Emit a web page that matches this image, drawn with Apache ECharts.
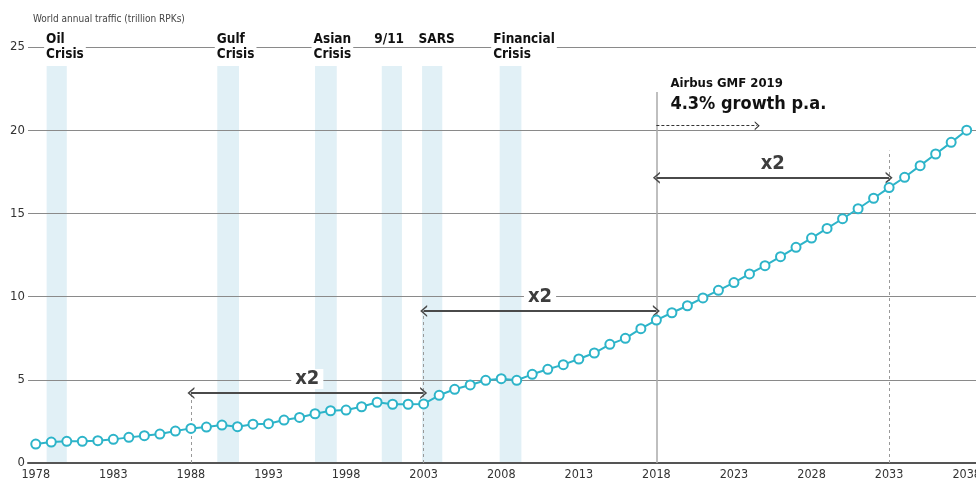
<!DOCTYPE html>
<html>
<head>
<meta charset="utf-8">
<script src="https://cdn.jsdelivr.net/npm/echarts@6/dist/echarts.min.js"></script>
<style>
html,body{margin:0;padding:0;background:#fff;}
#chart{width:976px;height:481px;}
</style>
</head>
<body>
<div id="chart"></div>
<script>
// ---------- data ----------
const years = [1978,1979,1980,1981,1982,1983,1984,1985,1986,1987,1988,1989,1990,1991,1992,1993,1994,1995,1996,1997,1998,1999,2000,2001,2002,2003,2004,2005,2006,2007,2008,2009,2010,2011,2012,2013,2014,2015,2016,2017,2018,2019,2020,2021,2022,2023,2024,2025,2026,2027,2028,2029,2030,2031,2032,2033,2034,2035,2036,2037,2038];
const traffic = [1.14,1.26,1.30,1.30,1.34,1.42,1.54,1.64,1.74,1.92,2.08,2.16,2.28,2.18,2.33,2.36,2.58,2.74,2.96,3.14,3.18,3.38,3.65,3.53,3.53,3.55,4.07,4.43,4.69,4.97,5.07,4.97,5.33,5.63,5.91,6.25,6.61,7.13,7.49,8.07,8.59,9.03,9.45,9.92,10.38,10.84,11.36,11.86,12.40,12.96,13.52,14.10,14.68,15.28,15.91,16.55,17.17,17.87,18.57,19.27,20.00];
const xTickLabels = [1978,1983,1988,1993,1998,2003,2008,2013,2018,2023,2028,2033,2038];
const yTickLabels = [0,5,10,15,20,25];
const crisisNames = ['Oil\nCrisis','Gulf\nCrisis','Asian\nCrisis','9/11','SARS','Financial\nCrisis'];
const crisisStart = [1978.7,1989.7,1996.0,2000.3,2002.9,2007.9];
const crisisEnd   = [1980.0,1991.1,1997.4,2001.6,2004.2,2009.3];
const crisisTop = 23.86;
const doublingFrom = [1988,2003,2018];
const doublingTo   = [2003,2018,2033];
const doublingLevel = [4.2,9.13,17.14];
const doublingLabel = ['x2','x2','x2'];
const forecastStart = 2018;
const forecastTop = 22.3;
const outlookLevel = 20.27;
const outlookEnd = 2024.5;
const outlookTitle = 'Airbus GMF 2019';
const outlookGrowth = '4.3% growth p.a.';
const yAxisTitle = 'World annual traffic (trillion RPKs)';
const dashTop2033 = 18.77;

// ---------- styles ----------
const FONT = "'Liberation Sans Narrow','Arial Narrow','DejaVu Sans Condensed',sans-serif";
const TEAL = '#2db4c9';
const crisisLabelDx = [-2,-2,-3,-9,-5,-8];
const CHEV = 'path://M0,10 L5,0 L10,10 L8.4,10 L5,3.2 L1.6,10 Z';

const chart = echarts.init(document.getElementById('chart'), null, {renderer:'canvas'});

const bandData = crisisNames.map((n,i)=>[
  {name:n, xAxis:crisisStart[i], yAxis:0},
  {xAxis:crisisEnd[i], yAxis:crisisTop}
]);

const crisisLabelData = crisisNames.map((n,i)=>({
  name:n, coord:[crisisStart[i], crisisTop],
  label:{position:[crisisLabelDx[i], -33],
    backgroundColor: n.indexOf('\n')>=0 ? '#fff' : 'transparent'}
}));

const arrowData = doublingFrom.map((f,i)=>[
  {coord:[f, doublingLevel[i]], label:{formatter:doublingLabel[i]}},
  {coord:[doublingTo[i], doublingLevel[i]]}
]);

const dashVert = [
  [{coord:[doublingFrom[0],0]},{coord:[doublingFrom[0],doublingLevel[0]]}],
  [{coord:[doublingFrom[1],0]},{coord:[doublingFrom[1],doublingLevel[1]]}],
  [{coord:[doublingTo[2],0]},{coord:[doublingTo[2],dashTop2033]}]
];

const option = {
  animation:false,
  textStyle:{fontFamily:FONT},
  grid:{left:28,right:0,top:47,bottom:18,containLabel:false,outerBoundsMode:'none'},
  xAxis:{
    type:'value', min:1977.5, max:2038.6,
    axisLine:{show:true,lineStyle:{color:'#555',width:2}},
    axisTick:{show:false},
    splitLine:{show:false},
    axisLabel:{customValues:xTickLabels, color:'#333', fontSize:12.5, margin:5, fontFamily:FONT,
      hideOverlap:false, formatter:v=>String(Math.round(v))}
  },
  yAxis:{
    type:'value', min:0, max:25, interval:5,
    name:yAxisTitle, nameLocation:'end', nameGap:28,
    nameTextStyle:{align:'left', verticalAlign:'middle', fontSize:10, color:'#444', padding:[0,0,0,5], fontFamily:FONT},
    axisLine:{show:false}, axisTick:{show:false},
    axisLabel:{color:'#333', fontSize:13, margin:3, fontFamily:FONT,
      formatter:v=> yTickLabels.indexOf(v)>=0 ? String(v) : ''},
    splitLine:{show:true, lineStyle:{color:'#8a8a8a', width:1}}
  },
  series:[
    {
      type:'line', name:'bands', data:[], z:-1, silent:true,
      markArea:{
        silent:true, z:-1,
        itemStyle:{color:'#e1f0f6'},
        label:{show:false},
        data:bandData
      }
    },
    {
      type:'line', name:'crisisLabels', data:[], z:4, silent:true,
      markPoint:{
        silent:true, symbol:'rect', symbolSize:1, z:4,
        itemStyle:{color:'rgba(0,0,0,0)'},
        label:{show:true, align:'left', verticalAlign:'top', fontSize:13.5, lineHeight:15,
          fontWeight:'bold', color:'#111', fontFamily:FONT,
          padding:[0,2,0,2],
          formatter:p=>p.name},
        data:crisisLabelData
      }
    },
    {
      type:'line', name:'verticals', data:[], silent:true,
      markLine:{
        silent:true, symbol:'none', animation:false,
        label:{show:false},
        lineStyle:{type:[3,3], color:'#999', width:1},
        data:dashVert
      }
    },
    {
      type:'line', name:'forecast', data:[], silent:true,
      markLine:{
        silent:true, symbol:'none', animation:false,
        label:{show:false},
        lineStyle:{type:'solid', color:'#aaa', width:1.5},
        data:[[{coord:[forecastStart,0]},{coord:[forecastStart,forecastTop]}]]
      }
    },
    {
      type:'line', name:'doubling', data:[], silent:true,
      markLine:{
        silent:true, symbol:[CHEV,CHEV], symbolSize:[12,7], animation:false,
        lineStyle:{type:'solid', color:'#4a4a4a', width:2},
        label:{show:true, position:'insideMiddleTop', distance:4,
          fontSize:20, lineHeight:20, fontWeight:'bold', color:'#3d3d3d',
          backgroundColor:'#fff', padding:[0,4], fontFamily:FONT},
        data:arrowData
      }
    },
    {
      type:'line', name:'outlook', data:[], silent:true,
      markLine:{
        silent:true, symbol:['none',CHEV], symbolSize:[9,5], animation:false,
        lineStyle:{type:[3,2], color:'#333', width:1},
        label:{show:true, position:'insideStartTop', distance:[14,10],
          formatter:'{a|'+outlookTitle+'}\n{b|'+outlookGrowth+'}',
          rich:{
            a:{fontSize:13, lineHeight:21, fontWeight:'bold', color:'#111', fontFamily:FONT},
            b:{fontSize:18, lineHeight:22, fontWeight:'bold', color:'#111', fontFamily:FONT}
          }},
        data:[[{coord:[forecastStart,outlookLevel]},{coord:[outlookEnd,outlookLevel]}]]
      }
    },
    {
      type:'line', name:'traffic', z:5,
      data:years.map((y,i)=>[y,traffic[i]]),
      symbol:'circle', symbolSize:9, showAllSymbol:true,
      itemStyle:{color:'#fff', borderColor:TEAL, borderWidth:2},
      lineStyle:{color:TEAL, width:2},
      silent:true
    }
  ]
};
chart.setOption(option);
</script>
</body>
</html>
